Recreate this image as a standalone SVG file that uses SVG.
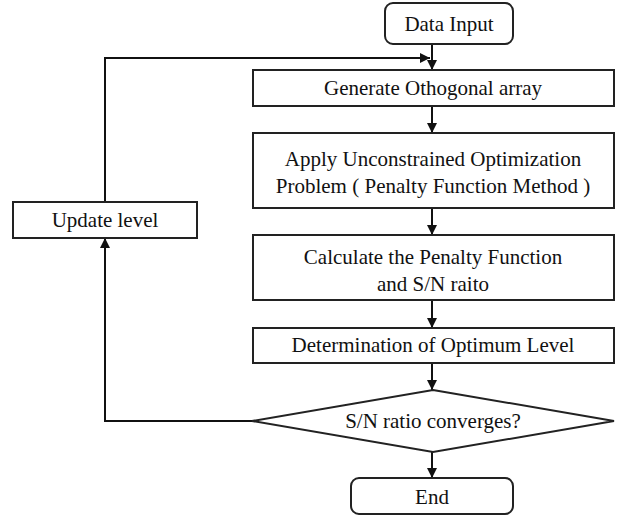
<svg xmlns="http://www.w3.org/2000/svg" width="619" height="516" viewBox="0 0 619 516">
<defs>
<marker id="ah" viewBox="0 0 10 10" refX="10" refY="5" markerWidth="10" markerHeight="10" markerUnits="userSpaceOnUse" orient="auto">
<path d="M0,0 L10,5 L0,10 z" fill="#111"/>
</marker>
<style>
.b{fill:#fff;stroke:#222;stroke-width:2}
.c{fill:none;stroke:#111;stroke-width:2;marker-end:url(#ah)}
</style>
</defs>
<rect width="619" height="516" fill="#fff"/>
<g id="connectors">
<path class="c" d="M432,44 V70"/>
<path class="c" d="M105,202 V58 H430"/>
<path class="c" d="M432,106 V133"/>
<path class="c" d="M432,208 V235"/>
<path class="c" d="M432,300 V328"/>
<path class="c" d="M432,363 V390"/>
<path class="c" d="M432,452 V478"/>
<path class="c" d="M252,421 H105 V238"/>
</g>
<g font-family="Liberation Serif, DejaVu Serif, serif" font-size="21" fill="#111" text-anchor="middle">
<g id="data-input"><rect class="b" x="385" y="3" width="128" height="41" rx="8"/><text x="449" y="31">Data Input</text></g>
<g id="generate"><rect class="b" x="253" y="70" width="361" height="36"/><text x="433" y="95">Generate Othogonal array</text></g>
<g id="apply"><rect class="b" x="253" y="133" width="361" height="75"/><text x="433" y="166">Apply Unconstrained Optimization</text><text x="433" y="193">Problem ( Penalty Function Method )</text></g>
<g id="calculate"><rect class="b" x="253" y="235" width="361" height="65"/><text x="433" y="264">Calculate the Penalty Function</text><text x="433" y="291">and S/N raito</text></g>
<g id="determination"><rect class="b" x="253" y="328" width="361" height="35"/><text x="433" y="352">Determination of Optimum Level</text></g>
<g id="converges"><path class="b" d="M433,390 L614,421 L433,452 L252,421 z"/><text x="433" y="428">S/N ratio converges?</text></g>
<g id="end"><rect class="b" x="351" y="478" width="162" height="36" rx="8"/><text x="432" y="504">End</text></g>
<g id="update"><rect class="b" x="13" y="202" width="184" height="36"/><text x="105" y="227">Update level</text></g>
</g>
</svg>
